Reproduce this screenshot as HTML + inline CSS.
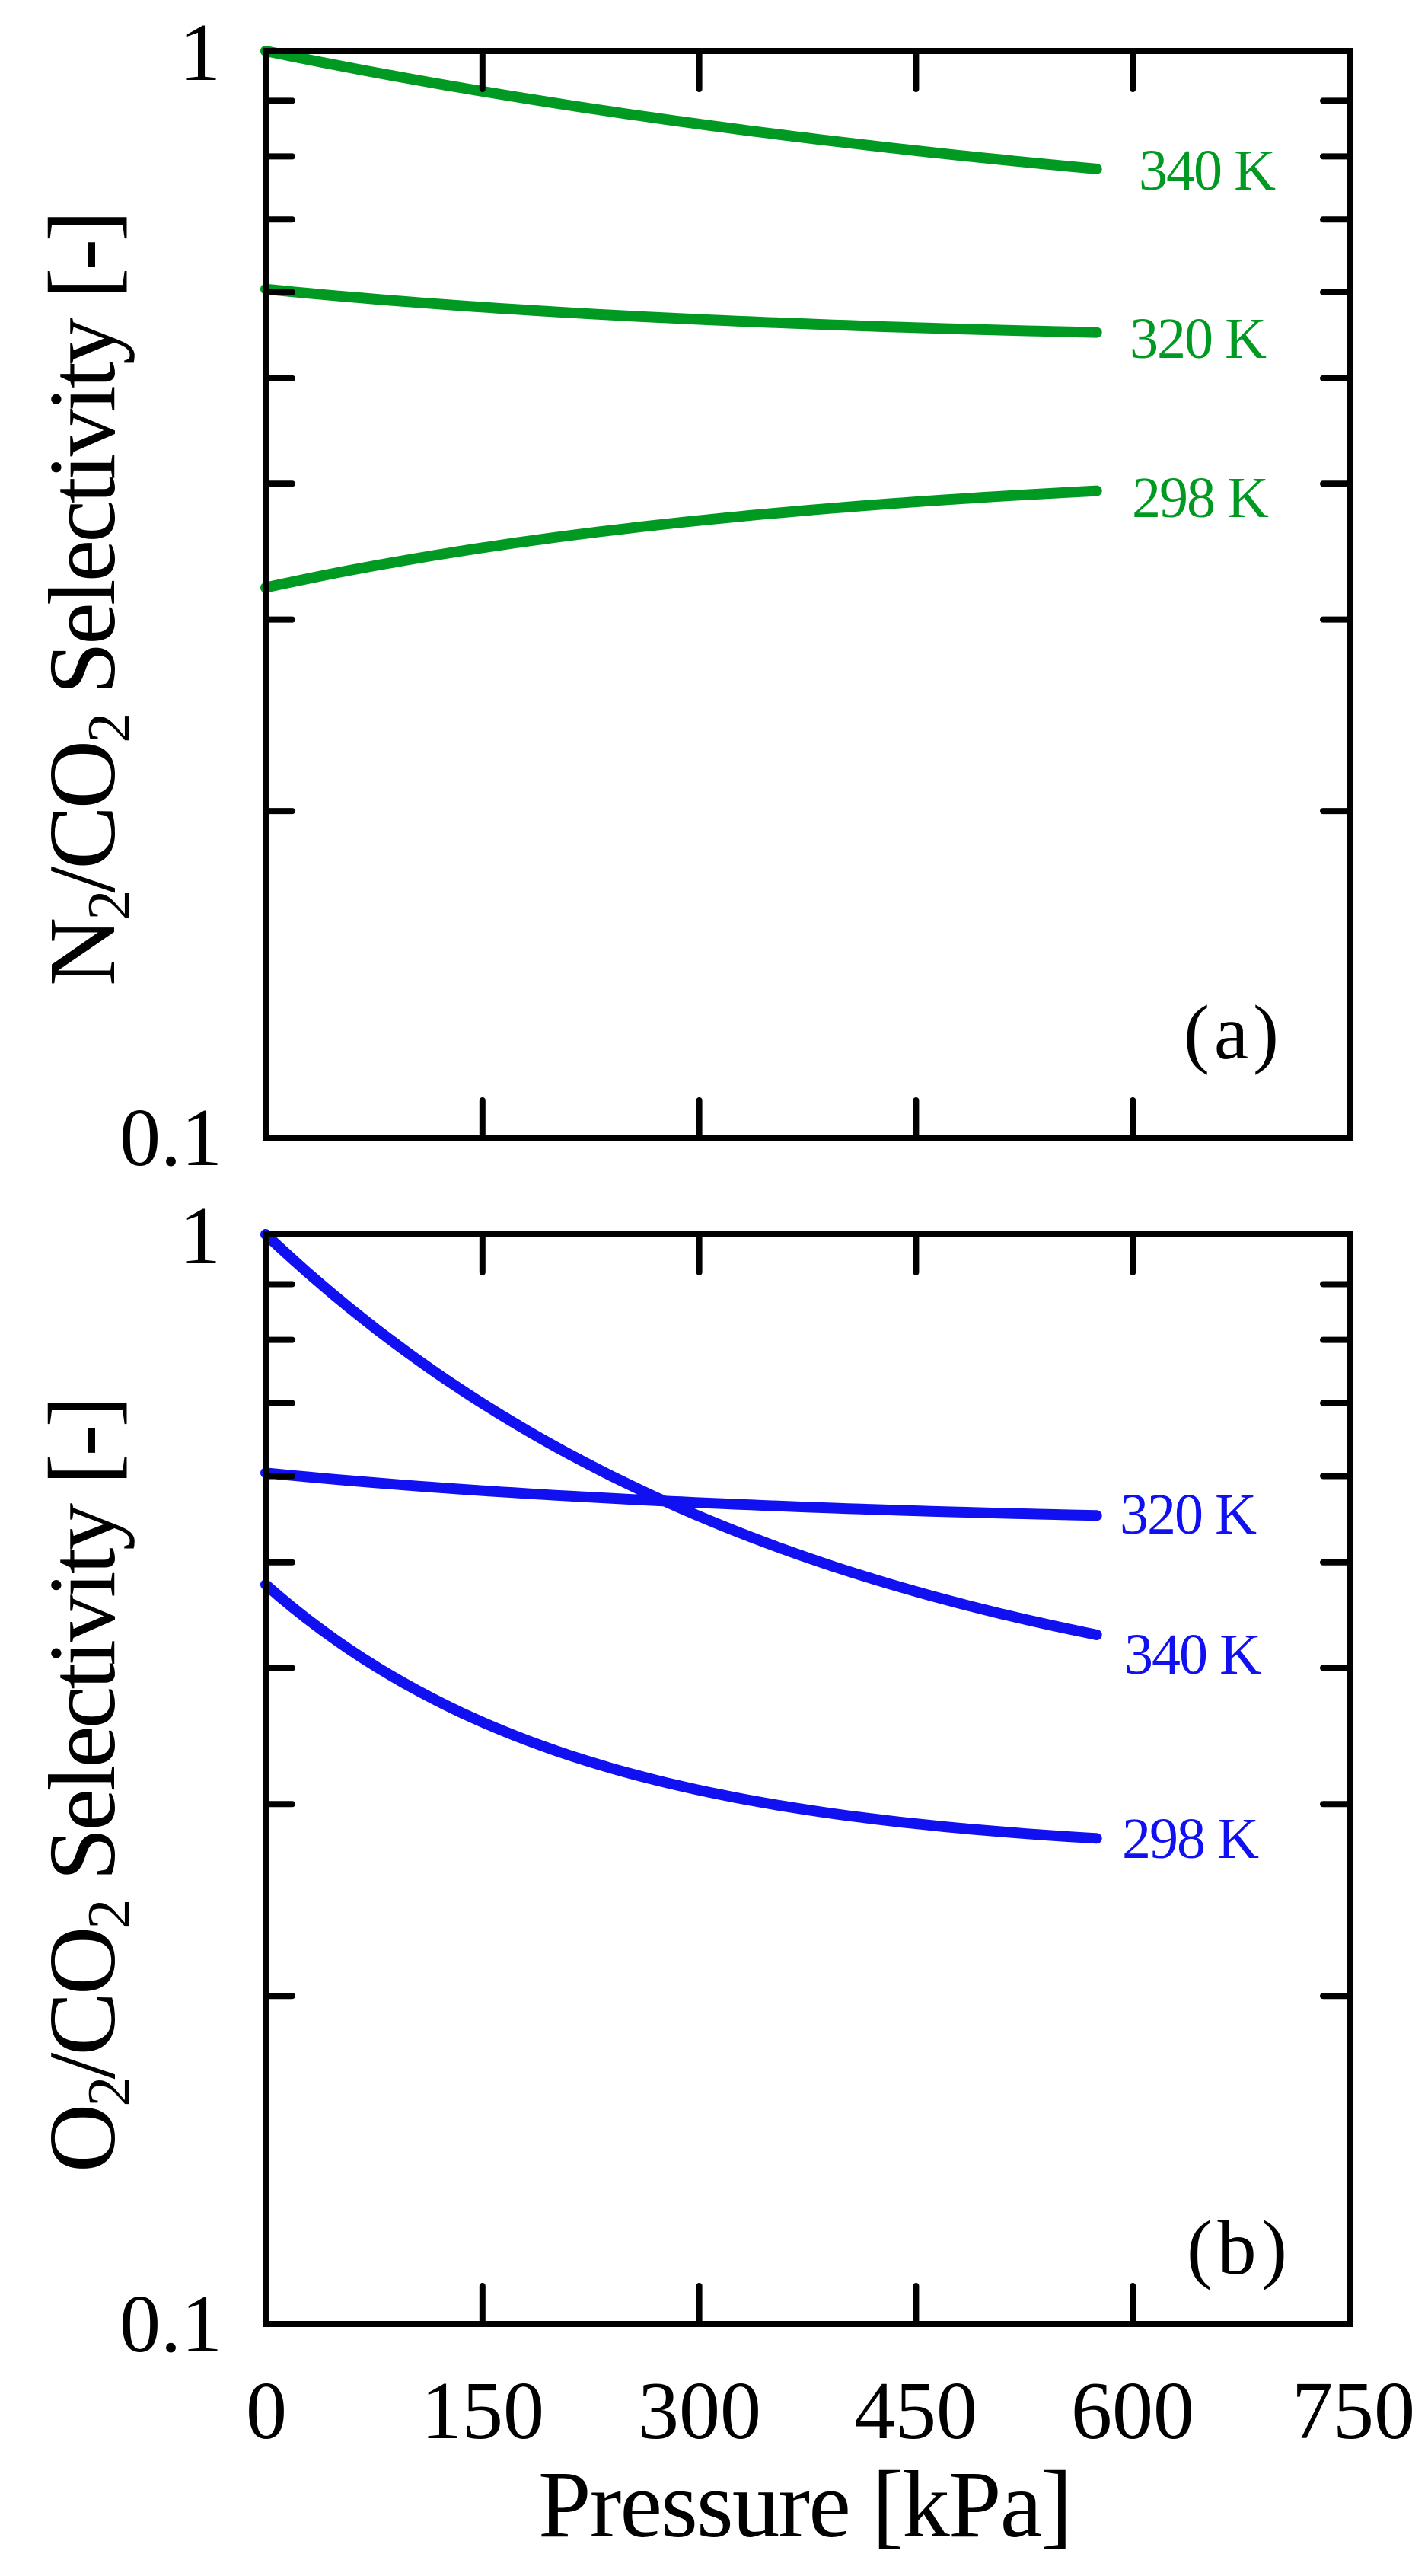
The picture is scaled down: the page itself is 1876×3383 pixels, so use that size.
<!DOCTYPE html>
<html><head><meta charset="utf-8"><style>html,body{margin:0;padding:0;background:#fff;overflow:hidden}svg{display:block}</style></head>
<body>
<svg id="s" width="1876" height="3383" xmlns="http://www.w3.org/2000/svg" font-family="Liberation Serif, serif">
<g id="g"></g>
<g font-size="108" text-anchor="end" fill="#000">
<text x="290" y="105">1</text>
<text x="292" y="1530">0.1</text>
<text x="290" y="1659">1</text>
<text x="292" y="3088">0.1</text>
</g>
<g font-size="108" text-anchor="middle" fill="#000">
<text x="350" y="3202">0</text>
<text x="634" y="3202">150</text>
<text x="919" y="3202">300</text>
<text x="1203" y="3202">450</text>
<text x="1488" y="3202">600</text>
<text x="1778" y="3202">750</text>
</g>
<text x="1058" y="3331" font-size="125" text-anchor="middle" textLength="702" fill="#000">Pressure [kPa]</text>
<text font-size="125" fill="#000" transform="translate(150,1295) rotate(-90)" textLength="1019">N<tspan font-size="80" dy="20">2</tspan><tspan dy="-20">/CO</tspan><tspan font-size="80" dy="20">2</tspan><tspan dy="-20"> Selectivity  [-]</tspan></text>
<text font-size="125" fill="#000" transform="translate(150,2853) rotate(-90)" textLength="1020">O<tspan font-size="80" dy="20">2</tspan><tspan dy="-20">/CO</tspan><tspan font-size="80" dy="20">2</tspan><tspan dy="-20"> Selectivity  [-]</tspan></text>
<text x="1555" y="1390" font-size="102" fill="#000" textLength="125">(a)</text>
<text x="1559" y="2986" font-size="102" fill="#000" textLength="132">(b)</text>
<g font-size="76" fill="#009a22">
<text x="1496" y="249" textLength="180">340 K</text>
<text x="1484" y="470" textLength="180">320 K</text>
<text x="1487" y="679" textLength="180">298 K</text>
</g>
<g font-size="76" fill="#1010f0">
<text x="1471" y="2014" textLength="180">320 K</text>
<text x="1477" y="2198" textLength="180">340 K</text>
<text x="1474" y="2440" textLength="180">298 K</text>
</g>
</svg>
<script>
(function(){
var g=document.getElementById('g'),NS='http://www.w3.org/2000/svg';
function el(t,a){var e=document.createElementNS(NS,t);for(var k in a)e.setAttribute(k,a[k]);g.appendChild(e);return e;}
var X0=349,X1=1773;function xp(p){return X0+(X1-X0)*p/750;}
var panels=[{top:67,bot:1495,col:'#009a22',curves:[[1,0.779,0.8],[0.604,0.551,1.5],[0.321,0.394,1.45]]},
{top:1621,bot:3052,col:'#1010f0',curves:[[1,0.429,1.55],[0.604,0.552,1.5],[0.477,0.279,2.7]]}];
panels.forEach(function(P){
 var H=P.bot-P.top;function yv(v){return P.top-H*Math.log10(v);}
 P.curves.forEach(function(c){
  var L0=Math.log10(c[0]),L1=Math.log10(c[1]),k=c[2],pts=[];
  for(var i=0;i<=60;i++){var t=i/60,gg=(1-Math.exp(-k*t))/(1-Math.exp(-k));var L=L0+(L1-L0)*gg;pts.push(xp(575*t).toFixed(1)+','+(P.top-H*L).toFixed(1));}
  el('polyline',{points:pts.join(' '),fill:'none',stroke:P.col,'stroke-width':14,'stroke-linecap':'round','stroke-linejoin':'round'});
 });
 el('rect',{x:X0,y:P.top,width:X1-X0,height:H,fill:'none',stroke:'#000','stroke-width':8});
 for(var j=2;j<=9;j++){var y=yv(j/10);
  el('line',{x1:X0,y1:y,x2:X0+35,y2:y,stroke:'#000','stroke-width':8,'stroke-linecap':'round'});
  el('line',{x1:X1,y1:y,x2:X1-35,y2:y,stroke:'#000','stroke-width':8,'stroke-linecap':'round'});}
 [150,300,450,600].forEach(function(p){var x=xp(p);
  el('line',{x1:x,y1:P.bot,x2:x,y2:P.bot-50,stroke:'#000','stroke-width':8,'stroke-linecap':'round'});
  el('line',{x1:x,y1:P.top,x2:x,y2:P.top+50,stroke:'#000','stroke-width':8,'stroke-linecap':'round'});});
});
})();
</script>
</body></html>
